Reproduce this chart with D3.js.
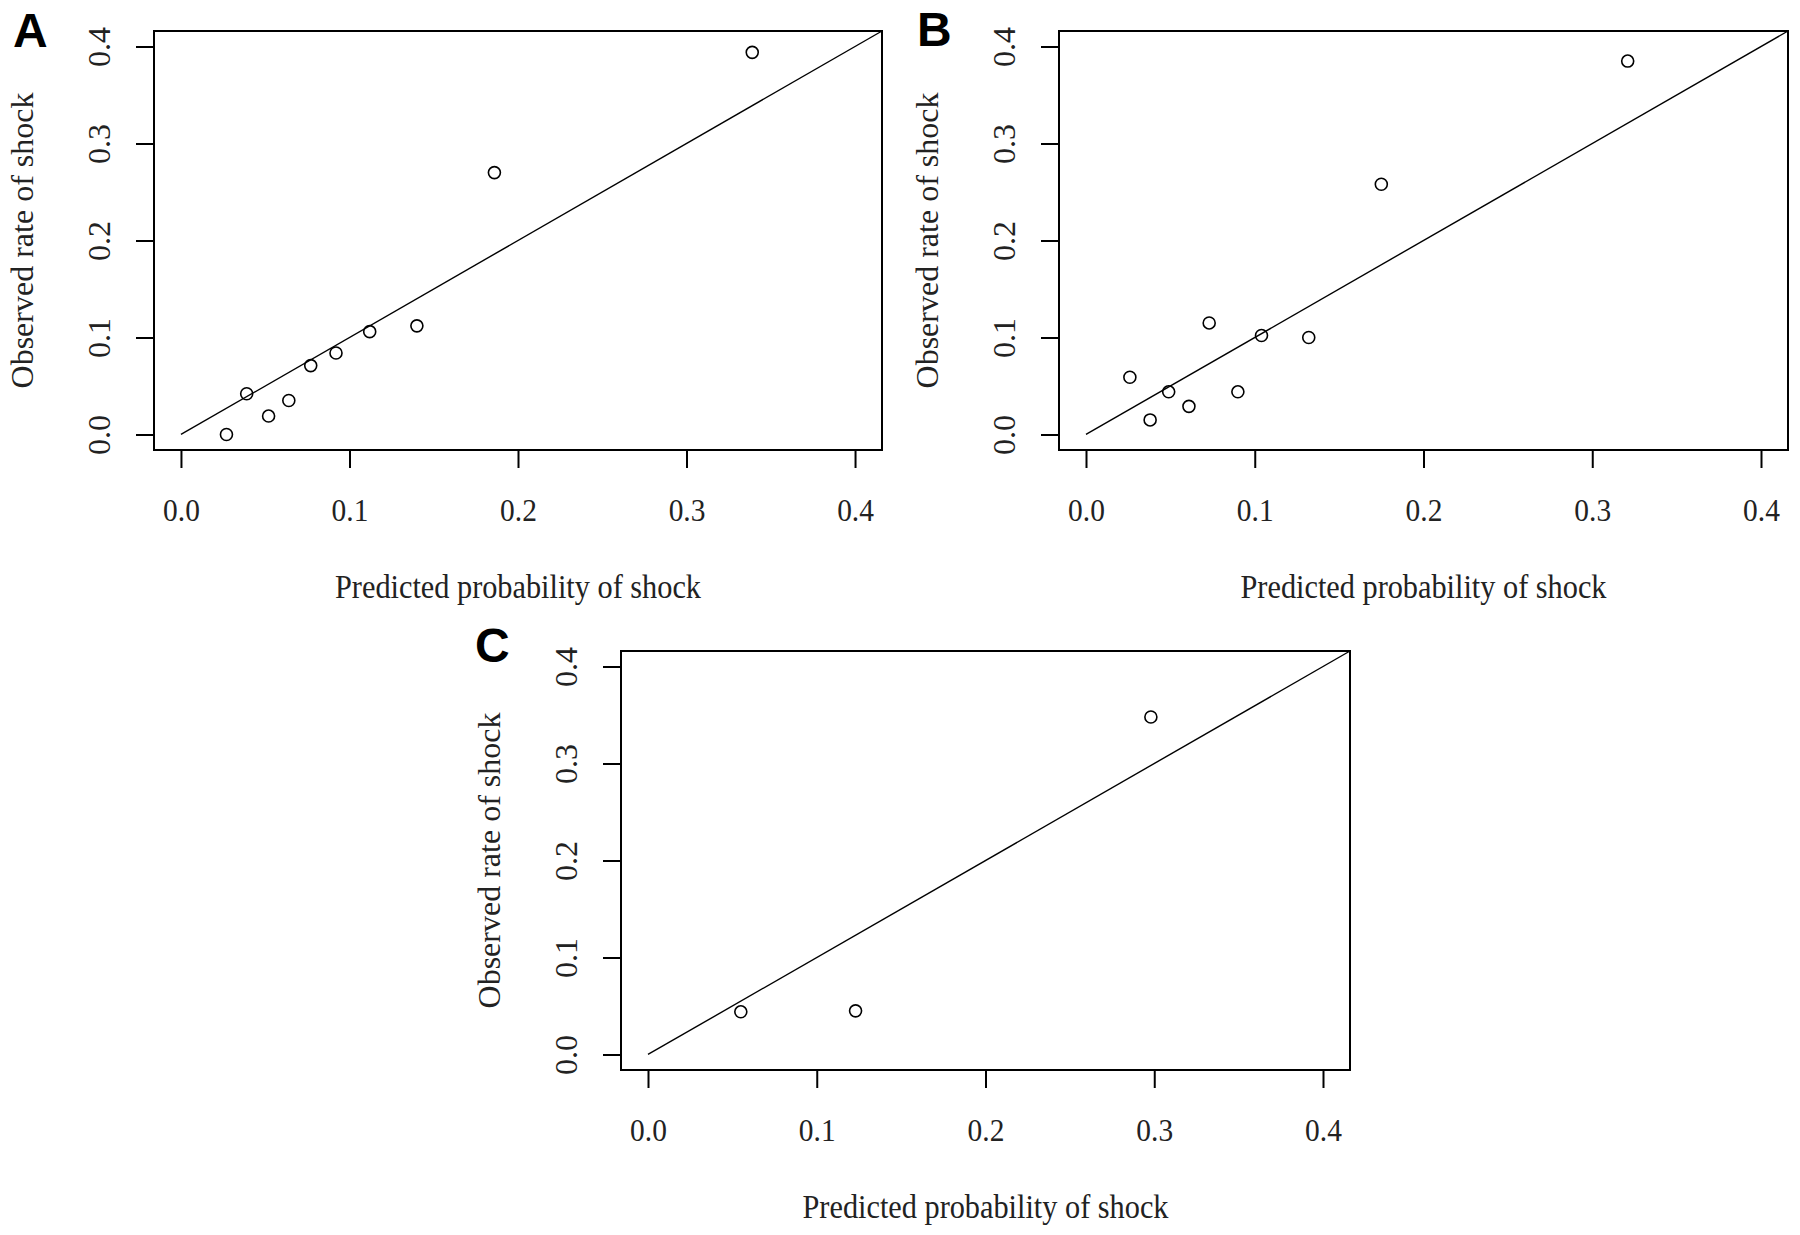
<!DOCTYPE html>
<html>
<head>
<meta charset="utf-8">
<script src="https://cdn.jsdelivr.net/npm/d3@7"></script>
<style>
  body { margin: 0; background: #fff; }
  svg { display: block; }
  .tick line { stroke: #000; stroke-width: 2; }
  .tick text { font-family: 'Liberation Serif', 'Times New Roman', serif; font-size: 32px; fill: #222; }
  .title { font-family: 'Liberation Serif', 'Times New Roman', serif; font-size: 33px; fill: #222; }
  .panel-label { font-family: 'Liberation Sans', Arial, sans-serif; font-size: 48px; font-weight: bold; fill: #000; }
</style>
</head>
<body>
<svg id="chart" width="1800" height="1235"></svg>
<script>
// data
var predA = [0.339, 0.186, 0.140, 0.112, 0.092, 0.077, 0.064, 0.052, 0.039, 0.027];
var obsA = [0.394, 0.270, 0.112, 0.106, 0.084, 0.071, 0.035, 0.019, 0.042, 0.000];

var predB = [0.321, 0.175, 0.132, 0.104, 0.073, 0.090, 0.061, 0.049, 0.038, 0.026];
var obsB = [0.385, 0.258, 0.100, 0.102, 0.115, 0.044, 0.029, 0.044, 0.015, 0.059];

var predC = [0.298, 0.123, 0.055];
var obsC = [0.348, 0.045, 0.044];

var tickValues = [0.0, 0.1, 0.2, 0.3, 0.4];
var xTitle = 'Predicted probability of shock';
var yTitle = 'Observed rate of shock';

var panels = [
  { name: 'A', pred: predA, obs: obsA, left: 154, right: 882, top: 31, bottom: 450, lx: 13, ly: 47 },
  { name: 'B', pred: predB, obs: obsB, left: 1059, right: 1788, top: 31, bottom: 450, lx: 917, ly: 46 },
  { name: 'C', pred: predC, obs: obsC, left: 621, right: 1350, top: 651, bottom: 1070, lx: 475, ly: 662 }
];

var svg = d3.select('#chart');
var pad = 0.016; // R's 4% axis expansion
var dom = [0 - pad, 0.4 + pad];
var fmt = d3.format('.1f');

panels.forEach(function (p) {
  var g = svg.append('g');

  var xScale = d3.scaleLinear()
    .domain(dom)
    .range([p.left, p.right]);

  var yScale = d3.scaleLinear()
    .domain(dom)
    .range([p.bottom, p.top]);

  // x axis
  var xAxis = g.append('g')
    .attr('transform', 'translate(0,' + p.bottom + ')')
    .call(d3.axisBottom(xScale).tickValues(tickValues).tickSize(18).tickFormat(fmt));
  xAxis.select('.domain').remove();
  xAxis.selectAll('.tick text')
    .attr('y', 0)
    .attr('dy', 0)
    .attr('transform', 'translate(0,71) scale(0.92,1)');

  // y axis
  var yAxis = g.append('g')
    .attr('transform', 'translate(' + p.left + ',0)')
    .call(d3.axisLeft(yScale).tickValues(tickValues).tickSize(18).tickFormat(fmt));
  yAxis.select('.domain').remove();
  yAxis.selectAll('.tick text')
    .attr('transform', 'rotate(-90)')
    .attr('x', 0)
    .attr('y', -44)
    .attr('dy', 0)
    .style('text-anchor', 'middle');

  // box
  g.append('rect')
    .attr('x', p.left)
    .attr('y', p.top)
    .attr('width', p.right - p.left)
    .attr('height', p.bottom - p.top)
    .attr('fill', 'none')
    .attr('stroke', '#000')
    .attr('stroke-width', 2);

  // identity line
  g.append('line')
    .attr('x1', xScale(0))
    .attr('y1', yScale(0))
    .attr('x2', xScale(dom[1]))
    .attr('y2', yScale(dom[1]))
    .attr('stroke', '#000')
    .attr('stroke-width', 1.4);

  // points
  var pts = p.pred.map(function (d, i) {
    return { x: d, y: p.obs[i] };
  });

  g.selectAll('circle')
    .data(pts)
    .enter()
    .append('circle')
    .attr('cx', function (d) { return xScale(d.x); })
    .attr('cy', function (d) { return yScale(d.y); })
    .attr('r', 6)
    .attr('fill', 'none')
    .attr('stroke', '#000')
    .attr('stroke-width', 1.6);

  // axis titles
  g.append('text')
    .attr('class', 'title')
    .attr('x', (p.left + p.right) / 2)
    .attr('y', p.bottom + 148)
    .attr('text-anchor', 'middle')
    .attr('textLength', 366)
    .attr('lengthAdjust', 'spacingAndGlyphs')
    .text(xTitle);

  g.append('text')
    .attr('class', 'title')
    .attr('transform', 'translate(' + (p.left - 121) + ',' + (p.top + p.bottom) / 2 + ') rotate(-90)')
    .attr('text-anchor', 'middle')
    .style('font-size', '32px')
    .text(yTitle);

  // panel letter
  g.append('text')
    .attr('class', 'panel-label')
    .attr('x', p.lx)
    .attr('y', p.ly)
    .text(p.name);
});
</script>
</body>
</html>
